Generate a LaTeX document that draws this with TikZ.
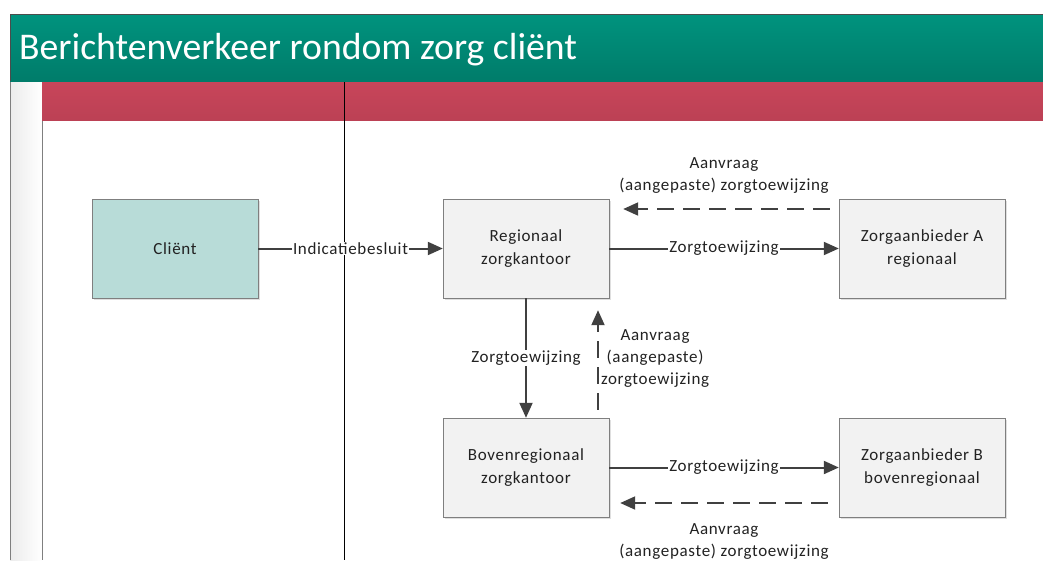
\documentclass[tikz,border=0pt]{standalone}
\usepackage{fontspec}
\setmainfont{Carlito}
\newfontfamily\lblfont{Carlito}[LetterSpace=4]
\usetikzlibrary{arrows.meta, positioning, calc, shadows}

\definecolor{headteal}{HTML}{00937E}
\definecolor{headtealdark}{HTML}{007C6A}
\definecolor{lanered}{HTML}{C8455A}
\definecolor{clientfill}{HTML}{B8DCD8}
\definecolor{boxfill}{HTML}{F2F2F2}
\definecolor{boxline}{HTML}{7F7F7F}
\definecolor{arrowgray}{HTML}{404040}
\definecolor{txtgray}{HTML}{222222}

\tikzset{
  actor/.style={draw=boxline, fill=boxfill, minimum width=166pt, minimum height=99pt,
    align=center, text=txtgray, font=\lblfont\fontsize{17}{23}\selectfont,
    drop shadow={shadow xshift=2pt, shadow yshift=-2pt, opacity=0.25}},
  msg/.style={-{Triangle[length=15pt,width=13pt]}, draw=arrowgray, line width=2pt},
  req/.style={msg, dash pattern=on 17pt off 9pt},
  lbl/.style={fill=white, inner sep=1pt, text=txtgray,
    font=\lblfont\fontsize{17}{22}\selectfont, align=center},
}

\begin{document}
\begin{tikzpicture}[x=1pt,y=-1pt]
\useasboundingbox (0,0) rectangle (1043,560);

% lanes
\fill[left color=gray!15, right color=white] (10,81) rectangle (42,560);
\draw[boxline] (10,81) -- (10,560);
\draw[boxline] (42,120) -- (42,560);
\fill[top color=lanered, bottom color=lanered!94!black] (42,81) rectangle (1043,120);
\draw[black] (344,81) -- (344,560);

% header
\fill[top color=headteal, bottom color=headtealdark] (10,14) rectangle (1043,81);
\draw[gray!60!black] (10,81) -- (10,14) -- (1043,14);
\node[anchor=base west, text=white, inner sep=0pt, font=\fontsize{37.7}{40}\selectfont] (title) at (19,59) {Berichtenverkeer rondom zorg cliënt};

% actors
\node[actor, fill=clientfill] (client) at (175,248.5) {Cliënt};
\node[actor] (regio) at (526,248.5) {Regionaal\\zorgkantoor};
\node[actor] (provA) at (922,248.5) {Zorgaanbieder A\\regionaal};
\node[actor] (bovo) at (526,467.5) {Bovenregionaal\\zorgkantoor};
\node[actor] (provB) at (922,467.5) {Zorgaanbieder B\\bovenregionaal};

% messages
\draw[msg] (client) -- node[lbl] {Indicatiebesluit} (regio);
\draw[msg] (regio) -- node[lbl] {Zorgtoewijzing} (provA);
\draw[msg] (regio) -- node[lbl] {Zorgtoewijzing} (bovo);
\draw[msg] (bovo) -- node[lbl] {Zorgtoewijzing} (provB);

% requests
\draw[req, shorten <=9pt, shorten >=14pt] ([yshift=39.5pt]provA.west) -- node[lbl, fill=none, above=14pt] {Aanvraag\\(aangepaste) zorgtoewijzing} ([yshift=39.5pt]regio.east);
\draw[req, shorten <=8pt, shorten >=12pt] ([xshift=72pt]bovo.north) -- node[lbl, fill=none, right=1pt] {Aanvraag\\(aangepaste)\\zorgtoewijzing} ([xshift=72pt]regio.south);
\draw[req, shorten <=11pt, shorten >=11pt] ([yshift=-35.5pt]provB.west) -- node[lbl, fill=none, below=19pt] {Aanvraag\\(aangepaste) zorgtoewijzing} ([yshift=-35.5pt]bovo.east);

\end{tikzpicture}
\end{document}
